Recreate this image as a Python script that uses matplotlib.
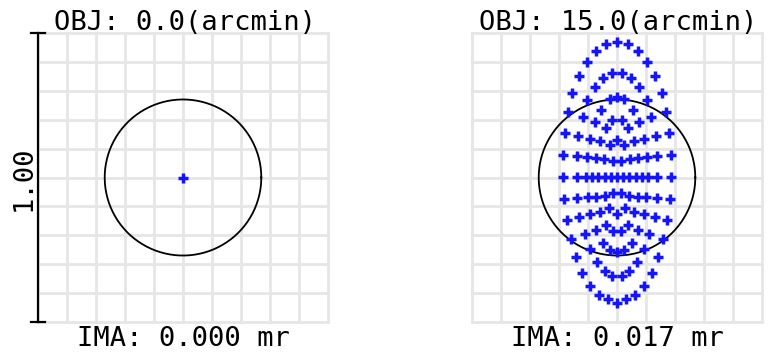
import matplotlib.pyplot as plt
import numpy as np

# spot diagram data, units where the full box is 100 wide (scale bar = 1.00)
titles = ["OBJ: 0.0(arcmin)", "OBJ: 15.0(arcmin)"]
ima_labels = ["IMA: 0.000 mr", "IMA: 0.017 mr"]
scale_label = "1.00"
airy_radius = 27.0

spot0_x = [0.0]
spot0_y = [0.0]

spot1_x = [
    # upper half
    0.0, -3.7, 3.7, -7.2, 7.2, -10.5, 10.5, -13.0, 13.0, -1.6, 1.6, -4.7, 4.7,
    -7.6, 7.6, -15.4, 15.4, -10.3, 10.3, 0.0, -2.5, 2.5, -5.4, 5.4, -16.9, 16.9,
    -11.6, 11.6, -1.6, 1.6, -7.6, 7.6, -3.9, 3.9, -17.9, 17.9, -13.3, 13.3,
    -9.2, 9.2, -5.8, 5.8, 0.0, -2.5, 2.5,
    -18.6, 18.6, -13.8, 13.8, -10.25, 10.25, -7.2, 7.2, -4.35, 4.35, -1.45, 1.45,
    # centre row
    -18.7, -13.9, -10.8, -8.6, -6.5, -4.3, -2.0, 0.0, 2.0, 4.3, 6.5, 8.6, 10.8, 13.9, 18.7,
    # lower half
    -18.4, 18.4, -13.8, 13.8, -10.1, 10.1, -7.2, 7.2, -4.2, 4.2, -1.3, 1.3,
    -17.2, 17.2, -13.0, 13.0, -9.2, 9.2, -5.7, 5.7, -2.8, 2.8, 0.0,
    -11.1, 11.1, -7.2, 7.2, -3.7, 3.7, -1.4, 1.4,
    -15.7, 15.7, -5.0, 5.0, -9.2, 9.2, -2.4, 2.4, 0.0, -14.25, 14.25, -6.8, 6.8,
    -12.0, 12.0, -4.3, 4.3, -1.6, 1.6, -9.35, 9.35, -6.35, 6.35, -3.25, 3.25, 0.0,
]
spot1_y = [
    47.0, 46.1, 46.1, 43.8, 43.8, 40.0, 40.0, 35.2, 35.2, 36.0, 36.0, 34.6, 34.6,
    31.4, 31.4, 29.3, 29.3, 26.7, 26.7, 27.9, 27.2, 27.2, 23.5, 23.5, 22.7, 22.7,
    21.0, 21.0, 19.8, 19.8, 19.1, 19.1, 17.3, 17.3, 15.5, 15.5, 14.3, 14.3,
    13.4, 13.4, 12.6, 12.6, 13.1, 11.3, 11.3,
    7.85, 7.85, 7.4, 7.4, 7.0, 7.0, 6.8, 6.8, 6.5, 6.5, 5.6, 5.6,
    0.3, 0.3, 0.3, 0.3, 0.3, 0.3, 0.3, 0.3, 0.3, 0.3, 0.3, 0.3, 0.3, 0.3, 0.3,
    -7.5, -7.5, -7.2, -7.2, -6.9, -6.9, -6.6, -6.6, -6.3, -6.3, -5.4, -5.4,
    -14.6, -14.6, -13.8, -13.8, -12.7, -12.7, -11.8, -11.8, -10.6, -10.6, -12.5,
    -19.6, -19.6, -18.2, -18.2, -16.4, -16.4, -18.4, -18.4,
    -21.3, -21.3, -22.5, -22.5, -24.8, -24.8, -25.0, -25.0, -25.95, -27.4, -27.4, -29.1, -29.1,
    -33.0, -33.0, -32.3, -32.3, -34.0, -34.0, -37.5, -37.5, -40.5, -40.5, -42.2, -42.2, -43.4,
]
spots = [(spot0_x, spot0_y), (spot1_x, spot1_y)]
marker_sizes = [7, 6.5]

mono = 'DejaVu Sans Mono'
fig = plt.figure(figsize=(7.7, 3.56), dpi=100)
fig.patch.set_facecolor('white')

lefts = [38 / 770, 472 / 770]
for i, (sx, sy) in enumerate(spots):
    ax = fig.add_axes([lefts[i], 34 / 356, 290 / 770, 289 / 356])
    ax.set_xlim(-50, 50)
    ax.set_ylim(-50, 50)
    ax.axis('off')
    for g in np.arange(-50, 51, 10):
        ax.plot([g, g], [-50, 50], color='#e6e6e6', lw=2.0, clip_on=False, zorder=1)
        ax.plot([-50, 50], [g, g], color='#e6e6e6', lw=2.0, clip_on=False, zorder=1)
    th = np.linspace(0, 2 * np.pi, 200)
    ax.plot(airy_radius * np.cos(th), airy_radius * np.sin(th), color='black', lw=1.3, zorder=2)
    ax.plot(sx, sy, linestyle='none', marker='+', markersize=marker_sizes[i], mew=2.5,
            color='#1414ff', zorder=3, clip_on=False)
    cx = lefts[i] + 145 / 770
    fig.text(cx + 0.002, 1 - 30 / 356, titles[i], ha='center', va='baseline',
             family=mono, fontsize=19.5)
    fig.text(cx, 1 - 346 / 356, ima_labels[i], ha='center', va='baseline',
             family=mono, fontsize=19.5)
    if i == 0:
        # scale bar along the left edge
        ax.plot([-50, -50], [-50, 50], color='black', lw=1.6, clip_on=False, zorder=4)
        ax.plot([-52.5, -47.5], [50, 50], color='black', lw=1.6, clip_on=False, zorder=4)
        ax.plot([-52.5, -47.5], [-50, -50], color='black', lw=1.6, clip_on=False, zorder=4)

fig.text(24 / 770, 0.5, scale_label, rotation=90, ha='center', va='center',
         family=mono, fontsize=19.5)

fig.savefig('out.png', dpi=100, facecolor='white')
